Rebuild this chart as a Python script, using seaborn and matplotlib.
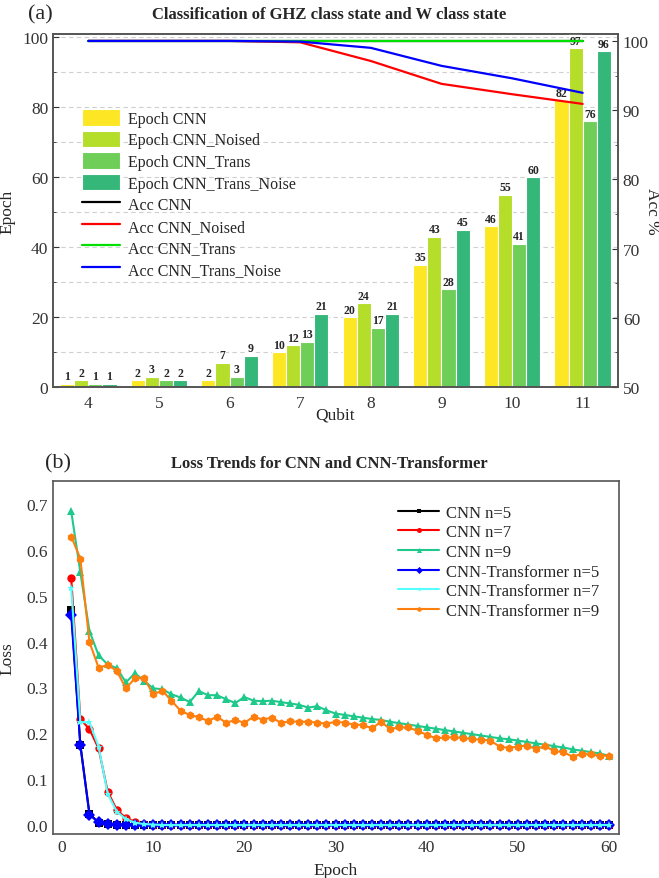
import numpy as np
import pandas as pd
import matplotlib
matplotlib.use("Agg")
import matplotlib.pyplot as plt
from matplotlib.ticker import MultipleLocator
import seaborn as sns

# ---------------- data: panel (a) ----------------
qubits = [4, 5, 6, 7, 8, 9, 10, 11]
bar_series = ["Epoch CNN", "Epoch CNN_Noised", "Epoch CNN_Trans", "Epoch CNN_Trans_Noise"]
epoch_cnn = [1, 2, 2, 10, 20, 35, 46, 82]
epoch_cnn_noised = [2, 3, 7, 12, 24, 43, 55, 97]
epoch_cnn_trans = [1, 2, 3, 13, 17, 28, 41, 76]
epoch_cnn_trans_noise = [1, 2, 9, 21, 21, 45, 60, 96]
bar_colors = ["#fde725", "#b5de2b", "#6ece58", "#35b779"]

acc_series = ["Acc CNN", "Acc CNN_Noised", "Acc CNN_Trans", "Acc CNN_Trans_Noise"]
acc_cnn = [100, 100, 100, 100, 100, 100, 100, 100]
acc_cnn_noised = [100, 100, 100, 99.8, 97.1, 93.8, 92.3, 90.9]
acc_cnn_trans = [100, 100, 100, 100, 100, 100, 100, 100]
acc_cnn_trans_noise = [100, 100, 100, 99.9, 99.0, 96.4, 94.6, 92.5]
acc_colors = ["#000000", "#ff0000", "#00e000", "#0000ff"]

# ---------------- data: panel (b) ----------------
epochs = list(range(1, 61))
loss_series = ["CNN n=5", "CNN n=7", "CNN n=9",
               "CNN-Transformer n=5", "CNN-Transformer n=7", "CNN-Transformer n=9"]
loss_cnn5 = [0.469, 0.175, 0.025, 0.005, 0.002, 0.001, 0.001, 0.0, 0.0, 0.0,
             0.0, 0.0, 0.0, 0.0, 0.0, 0.0, 0.0, 0.0, 0.0, 0.0,
             0.0, 0.0, 0.0, 0.0, 0.0, 0.0, 0.0, 0.0, 0.0, 0.0,
             0.0, 0.0, 0.0, 0.0, 0.0, 0.0, 0.0, 0.0, 0.0, 0.0,
             0.0, 0.0, 0.0, 0.0, 0.0, 0.0, 0.0, 0.0, 0.0, 0.0,
             0.0, 0.0, 0.0, 0.0, 0.0, 0.0, 0.0, 0.0, 0.0, 0.0]
loss_cnn7 = [0.538, 0.231, 0.209, 0.167, 0.073, 0.033, 0.015, 0.007, 0.002, 0.001,
             0.0, 0.0, 0.0, 0.0, 0.0, 0.0, 0.0, 0.0, 0.0, 0.0,
             0.0, 0.0, 0.0, 0.0, 0.0, 0.0, 0.0, 0.0, 0.0, 0.0,
             0.0, 0.0, 0.0, 0.0, 0.0, 0.0, 0.0, 0.0, 0.0, 0.0,
             0.0, 0.0, 0.0, 0.0, 0.0, 0.0, 0.0, 0.0, 0.0, 0.0,
             0.0, 0.0, 0.0, 0.0, 0.0, 0.0, 0.0, 0.0, 0.0, 0.0]
loss_cnn9 = [0.684, 0.551, 0.423, 0.370, 0.350, 0.342, 0.311, 0.331, 0.314, 0.298,
             0.296, 0.285, 0.278, 0.268, 0.292, 0.283, 0.283, 0.274, 0.266, 0.279,
             0.271, 0.270, 0.271, 0.268, 0.265, 0.262, 0.256, 0.259, 0.250, 0.243,
             0.240, 0.237, 0.234, 0.231, 0.229, 0.225, 0.222, 0.219, 0.216, 0.213,
             0.210, 0.207, 0.204, 0.201, 0.198, 0.195, 0.192, 0.189, 0.187, 0.184,
             0.181, 0.178, 0.175, 0.172, 0.169, 0.165, 0.162, 0.159, 0.156, 0.151]
loss_tr5 = [0.457, 0.174, 0.022, 0.006, 0.002, 0.001, 0.001, 0.0, 0.0, 0.0,
            0.0, 0.0, 0.0, 0.0, 0.0, 0.0, 0.0, 0.0, 0.0, 0.0,
            0.0, 0.0, 0.0, 0.0, 0.0, 0.0, 0.0, 0.0, 0.0, 0.0,
            0.0, 0.0, 0.0, 0.0, 0.0, 0.0, 0.0, 0.0, 0.0, 0.0,
            0.0, 0.0, 0.0, 0.0, 0.0, 0.0, 0.0, 0.0, 0.0, 0.0,
            0.0, 0.0, 0.0, 0.0, 0.0, 0.0, 0.0, 0.0, 0.0, 0.0]
loss_tr7 = [0.517, 0.224, 0.224, 0.171, 0.068, 0.029, 0.013, 0.005, 0.002, 0.001,
            0.0, 0.0, 0.0, 0.0, 0.0, 0.0, 0.0, 0.0, 0.0, 0.0,
            0.0, 0.0, 0.0, 0.0, 0.0, 0.0, 0.0, 0.0, 0.0, 0.0,
            0.0, 0.0, 0.0, 0.0, 0.0, 0.0, 0.0, 0.0, 0.0, 0.0,
            0.0, 0.0, 0.0, 0.0, 0.0, 0.0, 0.0, 0.0, 0.0, 0.0,
            0.0, 0.0, 0.0, 0.0, 0.0, 0.0, 0.0, 0.0, 0.0, 0.0]
loss_tr9 = [0.629, 0.581, 0.399, 0.343, 0.349, 0.336, 0.298, 0.320, 0.320, 0.285,
            0.293, 0.271, 0.249, 0.240, 0.235, 0.227, 0.236, 0.223, 0.229, 0.223,
            0.236, 0.230, 0.234, 0.223, 0.226, 0.225, 0.225, 0.223, 0.221, 0.225,
            0.223, 0.219, 0.218, 0.211, 0.225, 0.209, 0.213, 0.213, 0.205, 0.197,
            0.189, 0.191, 0.191, 0.190, 0.187, 0.186, 0.184, 0.171, 0.168, 0.171,
            0.173, 0.166, 0.172, 0.161, 0.159, 0.149, 0.155, 0.154, 0.151, 0.151]
loss_colors = ["#000000", "#ff0000", "#1ec98b", "#0000ff", "#55ffff", "#ff7f0e"]
loss_markers = ["s", "o", "^", "D", "*", "h"]

# ---------------- style ----------------
sns.set_style("white")
plt.rcParams["font.family"] = ["Liberation Serif", "DejaVu Serif"]
plt.rcParams["axes.edgecolor"] = "#555555"
plt.rcParams["axes.linewidth"] = 1.2
plt.rcParams["xtick.color"] = "#333333"
plt.rcParams["ytick.color"] = "#333333"

TICK = 12.5
LAB = 12.5

fig = plt.figure(figsize=(6.59, 8.79), dpi=100)
ax = fig.add_axes([53 / 659, 1 - 388 / 879, 565 / 659, 353 / 879])
axb = fig.add_axes([53 / 659, 1 - 835 / 879, 566 / 659, 353 / 879])

# ---------------- panel (a) ----------------
bar_vals = [epoch_cnn, epoch_cnn_noised, epoch_cnn_trans, epoch_cnn_trans_noise]
df_bars = pd.DataFrame({
    "Qubit": np.tile(qubits, len(bar_series)),
    "Epoch": np.concatenate(bar_vals),
    "Series": np.repeat(bar_series, len(qubits)),
})
sns.barplot(data=df_bars, x="Qubit", y="Epoch", hue="Series", hue_order=bar_series,
            palette=bar_colors, width=0.8, edgecolor="white", linewidth=0.8,
            errorbar=None, saturation=1, ax=ax)
for cont in ax.containers:
    ax.bar_label(cont, fmt="%d", fontsize=8.5, fontweight="bold", padding=1,
                 bbox=dict(facecolor="white", edgecolor="none", pad=0.3))

ax.set_ylim(0, 101)
ax.set_xlim(-0.5, 7.48)
ax.yaxis.set_major_locator(MultipleLocator(20))
ax.yaxis.set_minor_locator(MultipleLocator(10))
ax.yaxis.grid(True, which="both", linestyle=(0, (4, 3)), color="#cfcfcf", linewidth=0.8)
ax.set_axisbelow(True)
ax.set_xticks(range(len(qubits)))
ax.set_xticks(np.arange(-0.5, len(qubits), 1.0), minor=True)
ax.tick_params(axis="both", which="both", direction="in", labelsize=TICK)
ax.tick_params(axis="x", which="major", length=0, pad=6)
ax.tick_params(axis="x", which="minor", length=3)
ax.tick_params(axis="y", which="major", length=4)
ax.tick_params(axis="y", which="minor", length=2)
ax.set_xlabel("Qubit", fontsize=LAB)
ax.set_ylabel("Epoch", fontsize=LAB)
ax.yaxis.set_label_coords(-0.067, 0.5)
ax.xaxis.set_label_coords(0.5, -0.055)

ax2 = ax.twinx()
acc_vals = [acc_cnn, acc_cnn_noised, acc_cnn_trans, acc_cnn_trans_noise]
df_acc = pd.DataFrame({
    "pos": np.tile(np.arange(len(qubits)), len(acc_series)),
    "Acc": np.concatenate(acc_vals),
    "Series": np.repeat(acc_series, len(qubits)),
})
sns.lineplot(data=df_acc, x="pos", y="Acc", hue="Series", hue_order=acc_series,
             palette=acc_colors, linewidth=1.6, ax=ax2)
ax2.set_ylim(50, 101)
ax2.yaxis.set_major_locator(MultipleLocator(10))
ax2.yaxis.set_minor_locator(MultipleLocator(5))
ax2.tick_params(axis="y", which="both", direction="in", labelsize=TICK)
ax2.tick_params(axis="y", which="major", length=4)
ax2.tick_params(axis="y", which="minor", length=2)
ax2.set_ylabel("Acc %", fontsize=LAB, rotation=270, va="center")
ax2.yaxis.set_label_coords(1.06, 0.5)
ax2.set_xlabel("")

h1, l1 = ax.get_legend_handles_labels()
h2, l2 = ax2.get_legend_handles_labels()
if ax.get_legend() is not None:
    ax.get_legend().remove()
if ax2.get_legend() is not None:
    ax2.get_legend().remove()
ax2.legend(h1 + h2, l1 + l2, loc="upper left", bbox_to_anchor=(0.04, 0.805),
           borderaxespad=0, frameon=False, fontsize=11.5, handlelength=2.4,
           handleheight=1.2, labelspacing=0.25, handletextpad=0.5)

fig.text(28 / 659, 1 - 15 / 879, "(a)", fontsize=16, va="center", ha="left")
fig.text(329 / 659, 1 - 15 / 879, "Classification of GHZ class state and W class state",
         fontsize=12, fontweight="bold", va="center", ha="center")

# ---------------- panel (b) ----------------
loss_vals = [loss_cnn5, loss_cnn7, loss_cnn9, loss_tr5, loss_tr7, loss_tr9]
df_loss = pd.DataFrame({
    "Epoch": np.tile(epochs, len(loss_series)),
    "Loss": np.concatenate(loss_vals),
    "Model": np.repeat(loss_series, len(epochs)),
})
sns.lineplot(data=df_loss, x="Epoch", y="Loss", hue="Model", style="Model",
             hue_order=loss_series, style_order=loss_series,
             palette=loss_colors, markers=dict(zip(loss_series, loss_markers)),
             dashes=False, linewidth=1.5, markersize=6, markeredgewidth=0, ax=axb)
axb.set_xlim(-1, 61.1)
axb.set_ylim(-0.0196, 0.75)
axb.xaxis.set_major_locator(MultipleLocator(10))
axb.xaxis.set_minor_locator(MultipleLocator(5))
axb.yaxis.set_major_locator(MultipleLocator(0.1))
axb.yaxis.set_minor_locator(MultipleLocator(0.05))
axb.tick_params(axis="both", which="both", direction="in", labelsize=TICK)
axb.tick_params(which="major", length=4)
axb.tick_params(which="minor", length=2)
axb.set_xlabel("Epoch", fontsize=LAB)
axb.set_ylabel("Loss", fontsize=LAB)
axb.yaxis.set_label_coords(-0.067, 0.5)
axb.xaxis.set_label_coords(0.5, -0.078)
hb, lb = axb.get_legend_handles_labels()
if axb.get_legend() is not None:
    axb.get_legend().remove()
axb.legend(hb, lb, loc="upper right", bbox_to_anchor=(0.977, 0.952), borderaxespad=0,
           frameon=False, fontsize=12, markerscale=0.6, handlelength=2.5,
           labelspacing=0.22, handletextpad=0.4)

fig.text(45 / 659, 1 - 464 / 879, "(b)", fontsize=16, va="center", ha="left")
fig.text(329 / 659, 1 - 464 / 879, "Loss Trends for CNN and CNN-Transformer",
         fontsize=12, fontweight="bold", va="center", ha="center")

fig.savefig("out.png", dpi=100)
